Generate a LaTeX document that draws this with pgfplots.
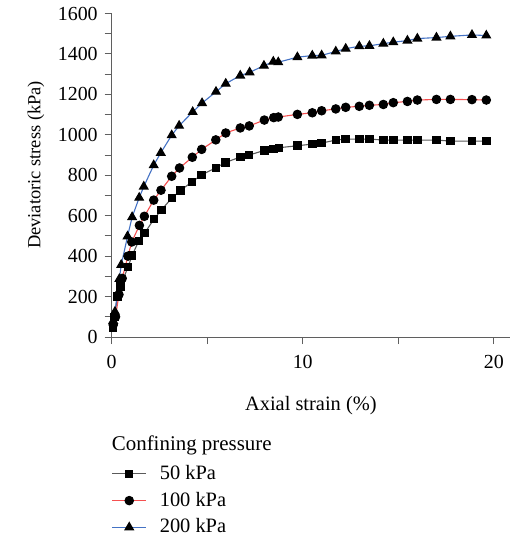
\documentclass[border=0pt]{standalone}
\usepackage{fontspec}
\setmainfont{Liberation Serif}
\usepackage{pgfplots}
\pgfplotsset{compat=1.18}
\definecolor{spine}{RGB}{95,95,95}
\definecolor{cfifty}{RGB}{90,90,90}
\definecolor{chundred}{RGB}{245,80,80}
\definecolor{ctwohundred}{RGB}{68,114,196}

\begin{document}
\fontsize{20.5}{24}\selectfont
\begin{tikzpicture}
\useasboundingbox (-111.7bp,-203bp) rectangle (398.3bp,337bp);
\begin{axis}[
    at={(0,0)}, anchor=south west,
    scale only axis,
    width=398.3bp, height=323.5bp,
    xmin=0, xmax=20.85, ymin=0, ymax=1600,
    axis lines=left,
    axis line style={-, spine, line width=1bp},
    xtick={0,10,20}, minor xtick={5,15},
    ytick={0,200,...,1600}, minor ytick={100,300,...,1500},
    tick align=outside,
    major tick length=7bp, minor tick length=7bp,
    every tick/.style={spine, line width=1bp},
    /pgf/number format/assume math mode=true,
    /pgf/number format/1000 sep={},
    ticklabel style={font=\fontsize{20}{24}\selectfont},
    xticklabel style={yshift=-4.5bp},
    xlabel={Axial strain (\%)},
    ylabel={Deviatoric stress (kPa)},
    xlabel style={font=\fontsize{20.5}{24}\selectfont, at={(axis description cs:0.5,-0.2257)}, anchor=base},
    ylabel style={font=\fontsize{18.5}{22}\selectfont, at={(axis description cs:-0.19,0.532)}, anchor=center},
    every axis plot/.append style={line width=1.1bp},
    legend style={at={(axis description cs:0,-0.5057)}, anchor=west,
        draw=none, fill=none, inner sep=0pt, outer sep=0pt, row sep=5.5bp,
        font=\fontsize{20.5}{24}\selectfont, cells={anchor=west},
        /tikz/every odd column/.append style={column sep=11bp}},
    legend image code/.code={\draw[mark repeat=2,mark phase=2,#1] plot coordinates {(0bp,0bp) (17bp,0bp) (34bp,0bp)};},
    legend cell align=left,
    clip=false,
]
\addplot[cfifty, mark=square*, mark size=3.7bp, mark options={black}] coordinates {
(0.08,45) (0.15,100) (0.3,200) (0.45,250) (0.85,345) (1.07,403) (1.42,476) (1.73,515)
(2.22,584) (2.61,629) (3.15,688) (3.6,725) (4.2,767) (4.71,802) (5.46,837) (5.95,863)
(6.73,890) (7.2,900) (7.99,923) (8.48,931) (8.75,936) (9.72,946) (10.5,954) (10.99,959)
(11.73,974) (12.25,979) (12.96,979) (13.49,979) (14.22,974) (14.74,974) (15.48,974)
(16.0,974) (17.0,974) (17.73,969) (18.86,969) (19.61,969)};
\addlegendentry{50 kPa}
\addplot[chundred, mark=*, mark size=4.2bp, mark options={black}] coordinates {
(0.08,60) (0.2,100) (0.38,210) (0.55,290) (0.85,400) (1.05,470) (1.45,552) (1.71,597)
(2.2,677) (2.58,726) (3.14,795) (3.55,836) (4.22,889) (4.71,928) (5.45,975) (5.97,1009)
(6.73,1034) (7.2,1044) (7.99,1073) (8.48,1085) (8.72,1088) (9.72,1101) (10.5,1109)
(10.99,1119) (11.73,1128) (12.25,1136) (12.96,1141) (13.49,1146) (14.22,1150)
(14.74,1159) (15.48,1165) (16.0,1172) (17.0,1175) (17.73,1175) (18.86,1174) (19.61,1172)};
\addlegendentry{100 kPa}
\addplot[ctwohundred, mark=triangle*, mark size=4.8bp, mark options={black}] coordinates {
(0.08,80) (0.17,125) (0.4,287) (0.5,357) (0.83,498) (1.07,593) (1.44,689) (1.68,744)
(2.2,850) (2.57,911) (3.14,998) (3.53,1045) (4.24,1113) (4.73,1157) (5.46,1213)
(5.97,1253) (6.73,1293) (7.22,1309) (7.97,1342) (8.46,1362) (8.72,1359) (9.72,1384)
(10.5,1392) (10.99,1393) (11.73,1412) (12.25,1426) (12.96,1438) (13.49,1440)
(14.22,1451) (14.74,1458) (15.48,1466) (16.0,1476) (17.0,1481) (17.73,1487)
(18.86,1494) (19.61,1491)};
\addlegendentry{200 kPa}
\end{axis}
\node[anchor=base west, inner sep=0pt, font=\fontsize{21}{24}\selectfont] at (0bp,-113.5bp) {Confining pressure};
\end{tikzpicture}
\end{document}
